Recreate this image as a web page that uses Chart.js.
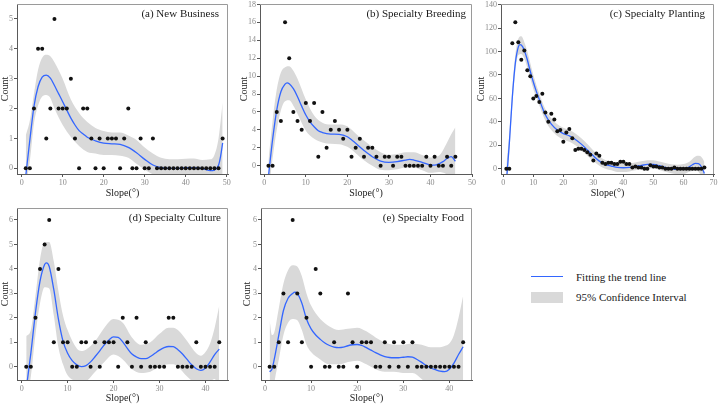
<!DOCTYPE html>
<html>
<head>
<meta charset="utf-8">
<script src="https://cdn.jsdelivr.net/npm/chart.js@4.4.1/dist/chart.umd.min.js"></script>
<style>
  body { margin: 0; background: #fff; }
  #wrap { position: relative; width: 719px; height: 404px; overflow: hidden; background: #fff; }
  #wrap canvas { position: absolute; }
  .key { position: absolute; left: 531px; width: 32px; }
  .key_line { top: 276px; height: 0; border-top: 1.5px solid #3366ff; }
  .key_box { top: 292px; height: 11px; background: #d9d9d9; }
  .key_text { position: absolute; left: 576px; font: 11px "Liberation Serif", serif; color: #1a1a1a; line-height: 14px; white-space: nowrap; }
</style>
</head>
<body>
<div id="wrap">
  <canvas id="chart_a" width="244" height="206" style="left:-2px;top:-6px"></canvas>
  <canvas id="chart_b" width="244" height="206" style="left:236px;top:-6px"></canvas>
  <canvas id="chart_c" width="249" height="206" style="left:470px;top:-6px"></canvas>
  <canvas id="chart_d" width="244" height="210" style="left:-2px;top:194px"></canvas>
  <canvas id="chart_e" width="244" height="210" style="left:236px;top:194px"></canvas>
  <div class="key key_line"></div>
  <div class="key key_box"></div>
  <div class="key_text" style="top:270px">Fitting the trend line</div>
  <div class="key_text" style="top:290px">95% Confidence Interval</div>
</div>
<script>
const serif = '"Liberation Serif", "Times New Roman", serif'

// (a) New Business
const a_slope = [1,2,3,4,5,6,7,8,9,10,11,12,13,14,15,16,17,18,19,20,21,22,23,24,25,26,27,28,29,30,31,32,33,34,35,36,37,38,39,40,41,42,43,44,45,46,47,48,49]
const a_count = [0,0,2,4,4,1,2,5,2,2, 2,3,1,0,2,2,1,0,1,0, 1,1,1,0,1,2,0,0,1,0, 0,1,0,0,0,0,0,0,0,0, 0,0,0,0,0,0,0,0,1]
const a_fit_x = [1,2,3,4,5,6,7,8,9,10,11,12,13,14,15,16,18,20,22,24,26,28,30,32,34,36,38,40,42,44,46,47,48,48.5,49]
const a_fit = [-0.25,0.95,2.07,2.73,3.05,3.12,3.02,2.77,2.5,2.23,1.95,1.68,1.45,1.26,1.15,1.04,0.92,0.84,0.82,0.8,0.7,0.52,0.3,0.11,0.02,0,0,0.02,0.02,0,-0.08,-0.06,0.1,0.4,0.85]
const a_band_x = [1,2,3,4,5,6,7,8,10,12,14,16,18,20,22,24,26,28,30,32,34,36,38,40,42,44,46,47,48,49]
const a_upper = [1.1,1.6,2.5,3.3,3.7,3.8,3.75,3.55,3.0,2.3,1.85,1.55,1.35,1.25,1.2,1.2,1.1,0.95,0.7,0.5,0.35,0.3,0.3,0.32,0.33,0.28,0.3,0.45,1.0,2.2]
const a_lower = [-0.6,0.25,1.5,2.1,2.4,2.45,2.35,2.0,1.45,1.05,0.75,0.55,0.5,0.45,0.45,0.42,0.35,0.15,-0.05,-0.2,-0.3,-0.3,-0.3,-0.28,-0.3,-0.3,-0.45,-0.55,-0.6,-0.7]
const a_xticks = [0,10,20,30,40,50]
const a_yticks = [0,1,2,3,4,5]

// (b) Specialty Breeding
const b_slope = [1,2,3,4,5,6,7,8,9,10,11,12,13,14,15,16,17,18,19,20,21,22,23,24,25,26,27,28,29,30,31,32,33,34,35,36,37,38,39,40,41,42,43,44,45,46]
const b_count = [0,0,6,5,16,12,6,5,4,7, 5,7,1,6,2,4,5,4,3,4, 1,2,3,1,2,2,1,0,1,1, 0,1,1,0,0,0,0,0,1,0, 1,0,0,1,0,1]
const b_fit_x = [1,2,3,4,5,5.5,6,7,8,9,10,11,12,13,14,16,18,20,21,22,24,26,28,30,32,34,35,36,38,40,41,42,43,44,45,46]
const b_fit = [-1.2,2.9,6.2,8.25,9.1,9.25,9.15,8.6,7.7,6.65,5.65,4.9,4.35,3.9,3.7,3.53,3.5,3.23,2.9,2.5,1.7,1.0,0.52,0.37,0.45,0.63,0.7,0.63,0.37,0.07,0.05,0.2,0.45,0.8,1.0,0.5]
const b_band_x = [1,2,3,4,5,6,7,8,10,12,14,16,18,20,22,24,26,28,30,32,34,36,38,40,42,44,45,46]
const b_upper = [0.6,5,8.5,10.4,11,11.1,10.6,9.7,7.4,5.6,4.8,4.6,4.6,4.4,3.6,2.8,2.1,1.5,1.2,1.3,1.5,1.5,1.2,0.9,1.1,2.6,3.5,4.3]
const b_lower = [-3,0.8,4,6.2,7.2,7.3,6.7,5.8,3.9,3.0,2.6,2.45,2.4,2.1,1.4,0.6,0,-0.45,-0.5,-0.4,-0.2,-0.2,-0.5,-0.8,-0.7,-1,-1.5,-3]
const b_xticks = [0,10,20,30,40,50]
const b_yticks = [0,2,4,6,8,10,12,14,16,18]

// (c) Specialty Planting
const c_slope = [1,2,3,4,5,6,7,8,9,10,11,12,13,14,15,16,17,18,19,20,21,22,23,24,25,26,27,28,29,30,31,32,33,34,35,36,37,38,39,40,41,42,43,44,45,46,47,48,49,50,51,52,53,54,55,56,57,58,59,60,61,62,63,64,65,66,67]
const c_count = [0,0,107,125,108,93,101,84,79,60, 62,57,64,48,40,47,42,32,33,23, 31,34,26,16,17,17,16,14,12,7, 13,11,5,4,5,5,4,4,6,6, 4,4,1,2,1,1,0,0,3,2, 2,1,1,0,0,0,1,0,0,0, 0,0,0,0,0,0,1]
const c_fit_x = [1,2,3,4,5,5.5,6,7,8,9,10,11,12,14,16,18,20,22,24,26,28,30,32,34,36,38,40,42,44,46,48,50,52,54,56,58,60,62,63,64,65,66,67]
const c_fit = [-12,21.6,61,90,104,106,105.6,101,93,83,74,66,59,46,38,33,30,28,25,21,16,11,6.5,3.7,2.3,1.1,0.85,1.1,2,2.8,3.7,3.7,2.6,1.1,0,-0.6,-0.3,1.7,3.4,4.5,4.3,1.7,-4]
const c_band_x = [1,2,3,4,5,6,7,8,10,12,14,16,18,20,22,24,26,28,30,32,34,36,38,40,42,44,46,48,50,52,54,56,58,60,62,64,65,66,67]
const c_upper = [2,30,68,97,111,113,108,100,80,64,51,43,38,35,33,30,26,21,15.5,10.5,7.5,6,5,4.5,4.5,5.3,6.3,7.3,7.3,6.2,4.8,3.8,3.5,4,6,10.5,11,10,6]
const c_lower = [-20,13,54,83,97,98,94,86,68,54,41,33,28,25,23,20,16,11,6.5,2.5,0,-1.4,-2.8,-2.8,-2.3,-1.3,-0.7,0.1,0.1,-1,-2.6,-3.8,-4.7,-4.6,-2.6,-1.5,-2.5,-6.6,-14]
const c_xticks = [0,10,20,30,40,50,60,70]
const c_yticks = [0,20,40,60,80,100,120,140]

// (d) Specialty Culture
const d_slope = [1,2,3,4,5,6,7,8,9,10,11,12,13,14,15,16,17,18,19,20,21,22,23,24,25,26,27,28,29,30,31,32,33,34,35,36,37,38,39,40,41,42,43]
const d_count = [0,0,2,4,5,6,1,4,1,1, 0,0,1,1,0,1,0,1,1,1, 0,2,1,0,2,0,1,0,0,0, 0,2,2,0,0,0,0,1,0,0, 0,0,1]
const d_fit_x = [1,2,3,4,5,5.4,6,7,8,9,10,11,12,13,14,15,16,17,18,19,20,21,22,23,24,25,26,27,28,29,30,31,32,33,34,35,36,37,38,39,40,41,42,43]
const d_fit = [-0.9,0.55,2.2,3.5,4.18,4.25,4.1,3.15,1.95,1.05,0.55,0.25,0.08,0.01,0.05,0.2,0.42,0.65,0.9,1.1,1.22,1.2,1.02,0.75,0.52,0.4,0.33,0.33,0.42,0.55,0.68,0.78,0.83,0.82,0.7,0.52,0.3,0.08,-0.08,-0.15,-0.05,0.2,0.5,0.72]
const d_band_x = [1,2,3,4,5,6,7,8,9,10,12,13,14,16,18,20,22,24,26,28,30,32,33,34,36,38,39,40,41,42,43]
const d_upper = [1.25,1.5,2.9,4.4,5.1,5.1,4.3,3.1,2.1,1.5,0.75,0.65,0.7,1.05,1.6,1.95,1.8,1.2,0.9,1.0,1.35,1.6,1.6,1.5,1.05,0.55,0.45,0.6,0.95,1.6,2.5]
const d_lower = [-1.5,-0.4,1.3,2.6,3.25,3.2,2.1,0.8,0.1,-0.35,-0.6,-0.65,-0.6,-0.2,0.2,0.5,0.3,-0.1,-0.25,-0.2,0,0.1,0.1,0,-0.4,-0.7,-0.75,-0.7,-0.6,-0.5,-1]
const d_xticks = [0,10,20,30,40]
const d_yticks = [0,1,2,3,4,5,6]

// (e) Specialty Food
const e_slope = [1,2,3,4,5,6,7,8,9,10,11,12,13,14,15,16,17,18,19,20,21,22,23,24,25,26,27,28,29,30,31,32,33,34,35,36,37,38,39,40,41,42,43]
const e_count = [0,0,1,3,1,6,3,1,2,0, 4,3,0,0,1,0,0,3,1,0, 1,1,1,0,0,1,0,1,0,1, 0,1,0,0,0,0,0,0,0,0, 0,0,1]
const e_fit_x = [1,1.5,2,3,4,5,6,6.5,7,8,9,10,11,12,13,14,15,16,17,18,19,20,21,22,23,24,25,26,27,28,29,30,31,32,33,34,35,36,37,38,39,40,41,42,43]
const e_fit = [-0.2,-0.1,0.3,1.3,2.3,2.8,3.0,3.05,3.0,2.6,1.95,1.55,1.3,1.12,0.97,0.87,0.8,0.78,0.8,0.86,0.9,0.91,0.87,0.78,0.68,0.58,0.49,0.42,0.38,0.37,0.37,0.39,0.41,0.39,0.3,0.18,0.05,-0.05,-0.12,-0.18,-0.2,-0.1,0.15,0.5,0.82]
const e_band_x = [1,1.5,2,3,4,5,6,7,8,9,10,12,14,16,18,20,22,24,26,28,30,32,34,36,38,39,40,41,42,43]
const e_upper = [1.9,1.3,1.4,2.4,3.4,3.95,4.15,4.1,3.7,3.0,2.5,1.95,1.65,1.5,1.55,1.6,1.45,1.2,1.0,0.9,0.9,0.95,0.9,0.8,0.8,0.85,0.95,1.3,2.0,2.9]
const e_lower = [-2.3,-1.5,-0.7,0.3,1.3,1.8,1.95,1.9,1.5,0.9,0.6,0.3,0.1,0.1,0.2,0.25,0.1,-0.1,-0.2,-0.2,-0.25,-0.25,-0.5,-0.9,-1.2,-1.25,-1.2,-1.1,-1.0,-1.3]
const e_xticks = [0,10,20,30,40]
const e_yticks = [0,1,2,3,4,5,6]

function xy(xs, ys) {
    return xs.map((x, i) => ({ x: x, y: ys[i] }))
}

// gray top/right frame + panel title
function frame_plugin(title, dx) {
    return {
        id: 'frame',
        afterDatasetsDraw(chart) {
            const { ctx, chartArea: c } = chart
            const top = Math.round(c.top) + 0.5
            const right = Math.round(c.right) - 0.5
            ctx.save()
            ctx.strokeStyle = '#9a9a9a'
            ctx.lineWidth = 1
            ctx.beginPath()
            ctx.moveTo(c.left, top)
            ctx.lineTo(right, top)
            ctx.lineTo(right, c.bottom)
            ctx.stroke()
            ctx.fillStyle = '#1a1a1a'
            ctx.font = '11px ' + serif
            ctx.textAlign = 'right'
            ctx.textBaseline = 'middle'
            ctx.fillText(title, c.right - dx, c.top + 10.5)
            ctx.restore()
        }
    }
}

function axis(p, ticks, min, max) {
    return {
        type: 'linear',
        min: min,
        max: max,
        afterBuildTicks: s => { s.ticks = ticks.map(v => ({ value: v })) },
        grid: { drawOnChartArea: false, drawTicks: true, tickLength: 3, tickColor: '#555', tickWidth: 1 },
        border: { color: '#5a5a5a', width: 1 },
        ticks: { font: { family: serif, size: 8 }, color: '#8a8a8a', padding: 1, maxRotation: 0, autoSkip: false }
    }
}

function draw_panel(id, p) {
    let x = axis(p, p.xticks, p.xmin, p.xmax)
    x.afterFit = s => { s.height = p.xh }
    x.title = { display: true, text: 'Slope(°)', font: { family: serif, size: 10 }, color: '#1a1a1a', padding: { top: 0, bottom: p.xtp } }
    let y = axis(p, p.yticks, p.ymin, p.ymax)
    y.afterFit = s => { s.width = p.yw }
    y.title = { display: true, text: 'Count', font: { family: serif, size: 10 }, color: '#1a1a1a', padding: { top: p.ytp, bottom: 0 } }

    new Chart(document.getElementById(id), {
        type: 'line',
        data: {
            datasets: [
                { data: xy(p.slope, p.count), showLine: false, pointRadius: 2, pointHoverRadius: 2, pointBackgroundColor: '#111', pointBorderWidth: 0, order: 0 },
                { data: xy(p.fit_x, p.fit), borderColor: '#3366ff', borderWidth: 1.3, pointRadius: 0, cubicInterpolationMode: 'monotone', fill: false, order: 1 },
                { data: xy(p.band_x, p.upper), borderColor: 'rgba(0,0,0,0)', borderWidth: 0, pointRadius: 0, cubicInterpolationMode: 'monotone', fill: '+1', backgroundColor: '#d9d9d9', order: 2 },
                { data: xy(p.band_x, p.lower), borderColor: 'rgba(0,0,0,0)', borderWidth: 0, pointRadius: 0, cubicInterpolationMode: 'monotone', fill: false, order: 3 }
            ]
        },
        options: {
            responsive: false,
            animation: false,
            events: [],
            layout: { padding: { left: 0, top: p.pt, right: p.pr, bottom: 0 } },
            plugins: { legend: { display: false }, tooltip: { enabled: false } },
            scales: { x: x, y: y }
        },
        plugins: [frame_plugin(p.title, p.dx)]
    })
}

draw_panel('chart_a', {
    title: '(a) New Business', dx: 9,
    slope: a_slope, count: a_count, fit_x: a_fit_x, fit: a_fit, band_x: a_band_x, upper: a_upper, lower: a_lower,
    xticks: a_xticks, yticks: a_yticks, xmin: -1.135, xmax: 50.31, ymin: -0.19, ymax: 5.5,
    pt: 10, pr: 14, yw: 19, xh: 26, xtp: 1, ytp: 1
})
draw_panel('chart_b', {
    title: '(b) Specialty Breeding', dx: 6,
    slope: b_slope, count: b_count, fit_x: b_fit_x, fit: b_fit, band_x: b_band_x, upper: b_upper, lower: b_lower,
    xticks: b_xticks, yticks: b_yticks, xmin: -1.03, xmax: 50, ymin: -0.93, ymax: 18.05,
    pt: 10, pr: 8, yw: 24, xh: 26, xtp: 1, ytp: 2.3
})
draw_panel('chart_c', {
    title: '(c) Specialty Planting', dx: 9,
    slope: c_slope, count: c_count, fit_x: c_fit_x, fit: c_fit, band_x: c_band_x, upper: c_upper, lower: c_lower,
    xticks: c_xticks, yticks: c_yticks, xmin: -0.77, xmax: 70.2, ymin: -4.5, ymax: 140.6,
    pt: 10, pr: 5, yw: 31, xh: 26, xtp: 1, ytp: 5
})
draw_panel('chart_d', {
    title: '(d) Specialty Culture', dx: 7,
    slope: d_slope, count: d_count, fit_x: d_fit_x, fit: d_fit, band_x: d_band_x, upper: d_upper, lower: d_lower,
    xticks: d_xticks, yticks: d_yticks, xmin: -1.01, xmax: 44.9, ymin: -0.54, ymax: 6.49,
    pt: 14, pr: 14, yw: 19, xh: 24, xtp: 0, ytp: 1.7
})
draw_panel('chart_e', {
    title: '(e) Specialty Food', dx: 8,
    slope: e_slope, count: e_count, fit_x: e_fit_x, fit: e_fit, band_x: e_band_x, upper: e_upper, lower: e_lower,
    xticks: e_xticks, yticks: e_yticks, xmin: -0.87, xmax: 44.92, ymin: -0.54, ymax: 6.49,
    pt: 14, pr: 8, yw: 25, xh: 24, xtp: 0, ytp: 5.7
})
</script>
</body>
</html>
